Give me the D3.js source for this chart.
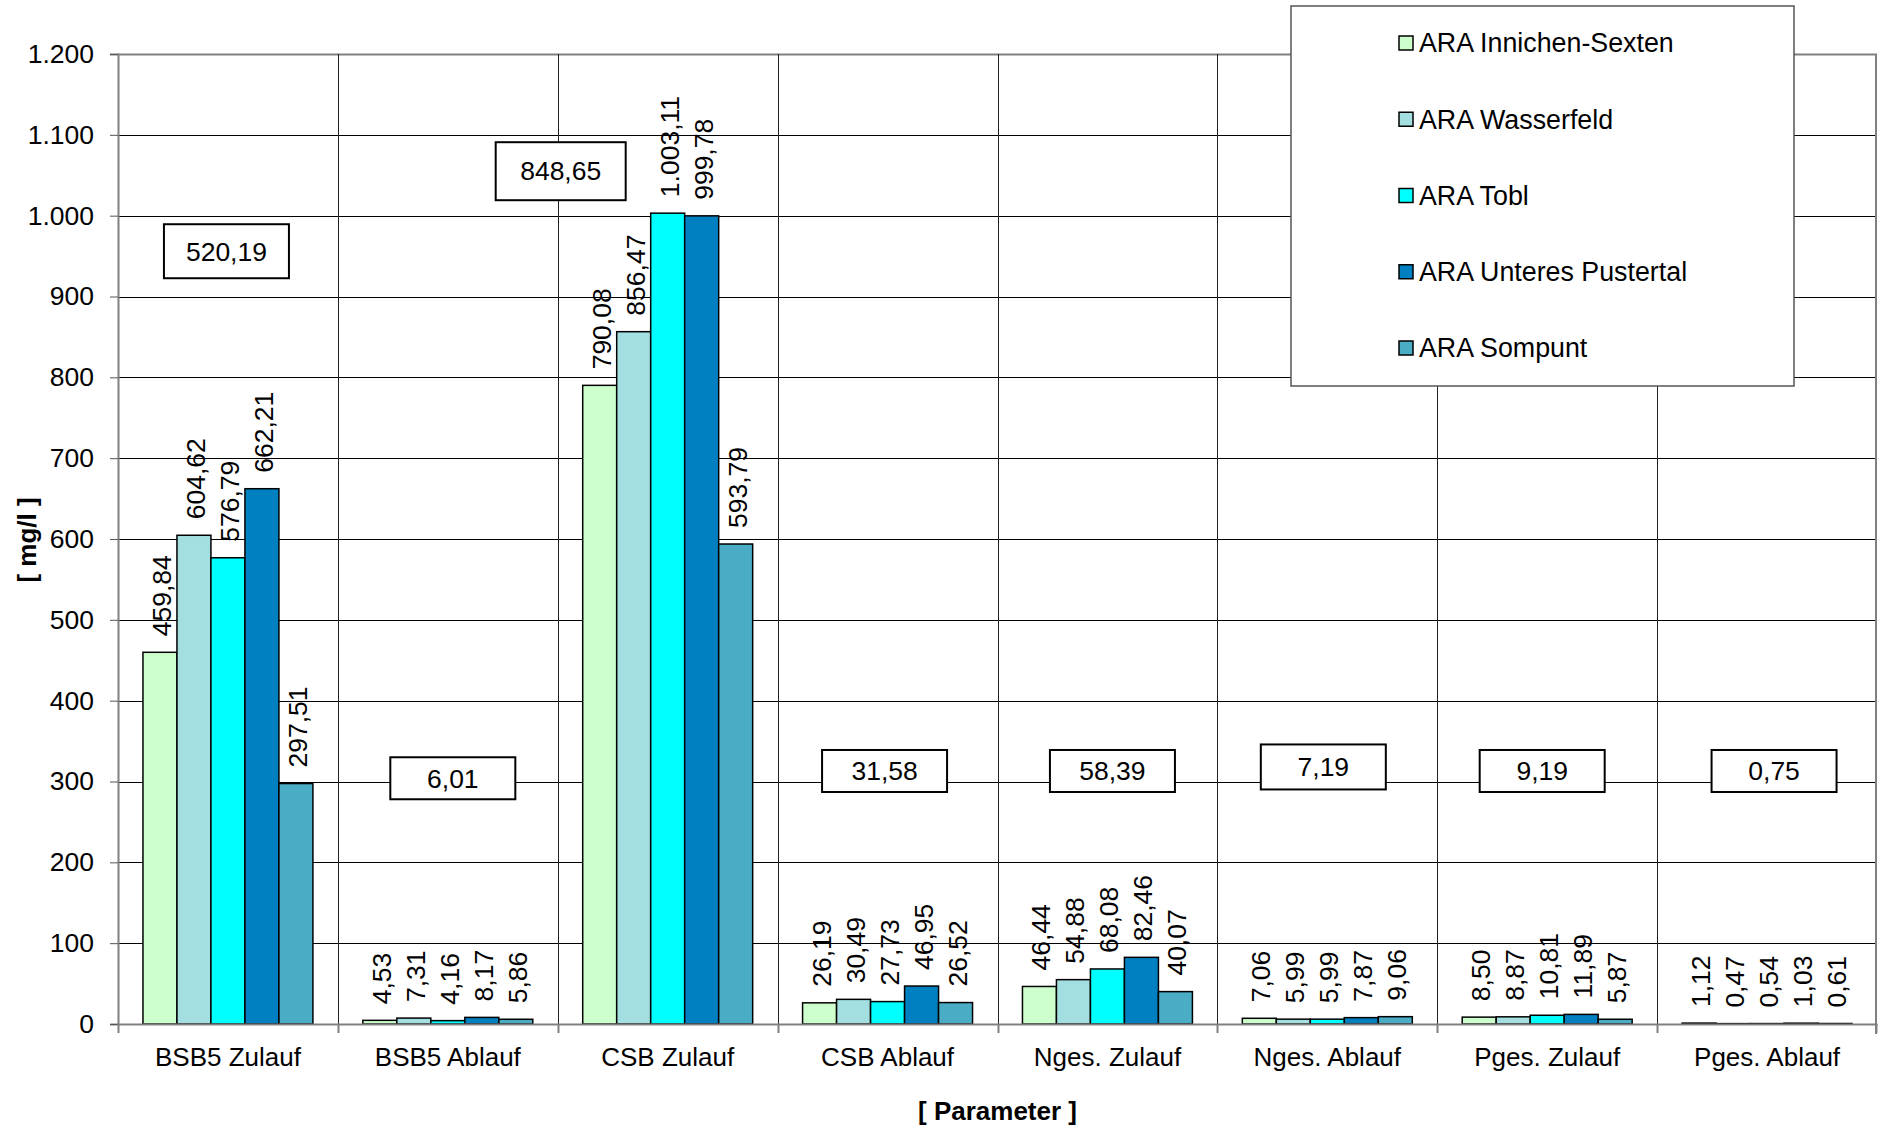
<!DOCTYPE html>
<html>
<head>
<meta charset="utf-8">
<script src="https://cdn.jsdelivr.net/npm/d3@7"></script>
<style>
  html, body { margin: 0; padding: 0; background: #fff; }
  svg { display: block; font-family: "Liberation Sans", Arial, sans-serif; }
</style>
</head>
<body>
<svg id="chart" width="1879" height="1129"></svg>
<script>
// ---------- data ----------
const categories = ["BSB5 Zulauf", "BSB5 Ablauf", "CSB Zulauf", "CSB Ablauf",
                    "Nges. Zulauf", "Nges. Ablauf", "Pges. Zulauf", "Pges. Ablauf"];
const seriesNames = ["ARA Innichen-Sexten", "ARA Wasserfeld", "ARA Tobl",
                     "ARA Unteres Pustertal", "ARA Sompunt"];
const innichenSexten   = [459.84, 4.53, 790.08, 26.19, 46.44, 7.06, 8.50, 1.12];
const wasserfeld       = [604.62, 7.31, 856.47, 30.49, 54.88, 5.99, 8.87, 0.47];
const tobl             = [576.79, 4.16, 1003.11, 27.73, 68.08, 5.99, 10.81, 0.54];
const unteresPustertal = [662.21, 8.17, 999.78, 46.95, 82.46, 7.87, 11.89, 1.03];
const sompunt          = [297.51, 5.86, 593.79, 26.52, 40.07, 9.06, 5.87, 0.61];
const averages = [520.19, 6.01, 848.65, 31.58, 58.39, 7.19, 9.19, 0.75];
const yTicks = [0, 100, 200, 300, 400, 500, 600, 700, 800, 900, 1000, 1100, 1200];

// ---------- layout / style (not data) ----------
const colors = ["#CCFFCC", "#A3DFE0", "#00FFFF", "#0080C0", "#4BACC6"];
// average box placement: [x offset from category centre (px), y centre (value units), width, height]
const avgBoxLayout = [
  [-1.5, 956, 125, 54], [5, 304, 125, 42], [-107, 1055, 130, 58], [-3, 313, 125, 42],
  [5, 313, 125, 42], [-4, 318, 125, 45], [-5, 313, 125, 42], [7, 313, 125, 42]
];

const allSeries = [innichenSexten, wasserfeld, tobl, unteresPustertal, sompunt];
const locale = d3.formatLocale({decimal: ",", thousands: ".", grouping: [3], currency: ["", " €"]});
const fmt2 = locale.format(",.2f");
const fmt0 = locale.format(",.0f");

const svg = d3.select("#chart");
const plot = {left: 118, right: 1877, top: 54, bottom: 1024};
const FONT = 26;

const x0 = d3.scaleBand().domain(categories).range([plot.left, plot.right]).paddingInner(0).paddingOuter(0);
const bw = x0.bandwidth();
const groupW = bw * 0.773;
const x1 = d3.scaleBand().domain(seriesNames).range([(bw - groupW) / 2, (bw + groupW) / 2]).padding(0);
const y = d3.scaleLinear().domain([0, 1200]).range([plot.bottom, plot.top]);

// gridlines horizontal
svg.append("g").selectAll("line").data(yTicks.filter(d => d > 0)).join("line")
  .attr("x1", plot.left).attr("x2", plot.right)
  .attr("y1", d => Math.round(y(d)) + 0.5).attr("y2", d => Math.round(y(d)) + 0.5)
  .attr("stroke", d => d === 1200 ? "#808080" : "#000").attr("stroke-width", d => d === 1200 ? 2 : 1);

// gridlines vertical (category boundaries)
const bounds = categories.slice(1).map(c => x0(c));
svg.append("g").selectAll("line").data(bounds).join("line")
  .attr("x1", d => Math.round(d) + 0.5).attr("x2", d => Math.round(d) + 0.5)
  .attr("y1", plot.top).attr("y2", plot.bottom)
  .attr("stroke", "#222").attr("stroke-width", 1);

// right border
svg.append("line").attr("x1", plot.right - 1).attr("x2", plot.right - 1)
  .attr("y1", plot.top).attr("y2", plot.bottom + 10).attr("stroke", "#808080").attr("stroke-width", 2);

// bars
const groups = svg.append("g").selectAll("g").data(categories).join("g")
  .attr("transform", d => `translate(${x0(d)},0)`);
groups.each(function(cat, ci) {
  const g = d3.select(this);
  const vals = allSeries.map((s, si) => ({name: seriesNames[si], v: s[ci], si}));
  g.selectAll("rect").data(vals).join("rect")
    .attr("x", d => x1(d.name)).attr("width", x1.bandwidth())
    .attr("y", d => y(d.v)).attr("height", d => y(0) - y(d.v))
    .attr("fill", d => colors[d.si]).attr("stroke", "#000").attr("stroke-width", 1.5);
  g.selectAll("text").data(vals).join("text")
    .attr("transform", d => `translate(${x1(d.name) + x1.bandwidth() / 2 + 11},${y(d.v) - 16}) rotate(-90)`)
    .attr("text-anchor", "start").attr("font-size", 26.5).attr("fill", "#000")
    .text(d => fmt2(d.v));
});

// axes
const yAxis = d3.axisLeft(y).tickValues(yTicks).tickFormat(fmt0).tickSize(8).tickPadding(16);
const yg = svg.append("g").attr("transform", `translate(${plot.left},0)`).call(yAxis);
yg.select(".domain").attr("stroke", "#808080").attr("stroke-width", 2);
yg.selectAll(".tick line").attr("stroke", "#555");
yg.selectAll(".tick text").attr("font-size", 26.5).attr("font-family", "Liberation Sans, Arial, sans-serif").attr("fill", "#000");

const xAxis = d3.axisBottom(x0).tickSize(0).tickPadding(24);
const xg = svg.append("g").attr("transform", `translate(0,${plot.bottom})`).call(xAxis);
xg.select(".domain").attr("stroke", "#808080").attr("stroke-width", 2);
xg.selectAll(".tick text").attr("font-size", FONT).attr("font-family", "Liberation Sans, Arial, sans-serif").attr("fill", "#000");
// boundary tick marks
svg.append("g").selectAll("line").data([plot.left, ...bounds, plot.right - 1]).join("line")
  .attr("x1", d => Math.round(d) + 0.5).attr("x2", d => Math.round(d) + 0.5)
  .attr("y1", plot.bottom).attr("y2", plot.bottom + 9).attr("stroke", "#808080").attr("stroke-width", 2);

// average boxes
const ab = svg.append("g").selectAll("g").data(averages).join("g")
  .attr("transform", (d, i) => {
    const L = avgBoxLayout[i];
    return `translate(${x0(categories[i]) + bw / 2 + L[0]},${y(L[1])})`;
  });
ab.append("rect")
  .attr("x", (d, i) => -avgBoxLayout[i][2] / 2).attr("y", (d, i) => -avgBoxLayout[i][3] / 2)
  .attr("width", (d, i) => avgBoxLayout[i][2]).attr("height", (d, i) => avgBoxLayout[i][3])
  .attr("fill", "#fff").attr("stroke", "#000").attr("stroke-width", 2);
ab.append("text").attr("text-anchor", "middle").attr("dy", "0.35em")
  .attr("font-size", 26.5).attr("fill", "#000").text(d => fmt2(d));

// axis titles
svg.append("text").attr("transform", `translate(${27},${540}) rotate(-90)`)
  .attr("text-anchor", "middle").attr("dy", "0.35em").attr("font-weight", "bold").attr("font-size", FONT)
  .text("[ mg/l ]");
svg.append("text").attr("x", (plot.left + plot.right) / 2).attr("y", 1120)
  .attr("text-anchor", "middle").attr("font-weight", "bold").attr("font-size", FONT)
  .text("[ Parameter ]");

// legend
const leg = svg.append("g");
leg.append("rect").attr("x", 1291).attr("y", 6).attr("width", 503).attr("height", 380)
  .attr("fill", "#fff").attr("stroke", "#555").attr("stroke-width", 1.5);
const rowY = d3.scalePoint().domain(seriesNames).range([43, 348]);
const items = leg.selectAll("g.item").data(seriesNames).join("g").attr("class", "item")
  .attr("transform", d => `translate(1399,${rowY(d)})`);
items.append("rect").attr("x", 0).attr("y", -7).attr("width", 14).attr("height", 14)
  .attr("fill", (d, i) => colors[i]).attr("stroke", "#000").attr("stroke-width", 1.5);
items.append("text").attr("x", 20).attr("dy", "0.35em").attr("font-size", 26.8).attr("fill", "#000")
  .text(d => d);
</script>
</body>
</html>
